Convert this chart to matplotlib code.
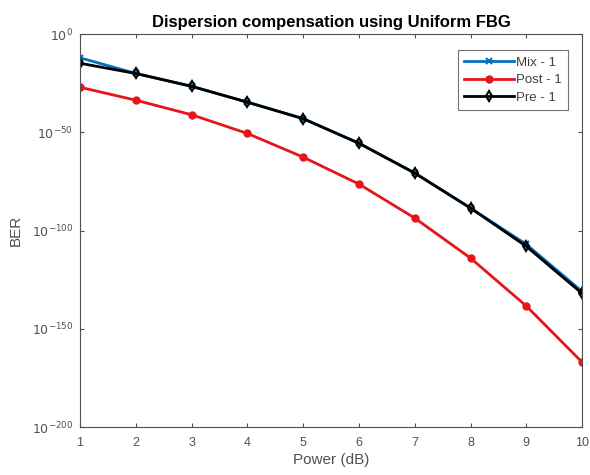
import matplotlib
matplotlib.use("Agg")
import matplotlib.pyplot as plt
from matplotlib.ticker import FixedLocator, NullLocator

plt.rcParams['font.family'] = ['Liberation Sans', 'DejaVu Sans']

power = [1, 2, 3, 4, 5, 6, 7, 8, 9, 10]
ber_mix = [1e-12, 1e-20, 3e-27, 2.5e-35, 1e-43, 3e-56, 2e-71, 3e-89, 1e-107, 1e-131]
ber_post = [1e-27, 2.5e-34, 1e-41, 3e-51, 2.5e-63, 5e-77, 2.5e-94, 1e-114, 4e-139, 1e-167]
ber_pre = [1.6e-15, 1e-20, 3e-27, 2.5e-35, 1e-43, 3e-56, 2e-71, 3e-89, 1e-108, 1e-132]
ytick_vals = [1e0, 1e-50, 1e-100, 1e-150, 1e-200]
ytick_labels = [r'$10^{0}$', r'$10^{-50}$', r'$10^{-100}$', r'$10^{-150}$', r'$10^{-200}$']
xtick_vals = [1, 2, 3, 4, 5, 6, 7, 8, 9, 10]

fig = plt.figure(figsize=(5.9, 4.75), dpi=100)
ax = fig.add_axes([0.1356, 0.101, 0.851, 0.827])

ax.plot(power, ber_mix, color='#0072BD', lw=2, marker='x', ms=5, mew=1.5, label='Mix - 1')
ax.plot(power, ber_post, color='#E8141B', lw=2, marker='o', ms=5, mfc='#E8141B', mec='#E8141B', label='Post - 1')
ax.plot(power, ber_pre, color='black', lw=2, marker='d', ms=5, mfc='none', mec='black', mew=1.5, label='Pre - 1')

ax.set_yscale('log')
ax.set_xlim(1, 10)
ax.set_ylim(1e-200, 1e0)
ax.yaxis.set_major_locator(FixedLocator(ytick_vals))
ax.yaxis.set_minor_locator(NullLocator())
ax.set_yticklabels(ytick_labels)
ax.set_xticks(xtick_vals)
ax.tick_params(direction='in', top=True, right=True, labelsize=9, colors='#505050', length=3)
ax.tick_params(axis='x', pad=7)
ax.tick_params(axis='y', pad=5)
for s in ax.spines.values():
    s.set_color('#505050')
    s.set_linewidth(0.8)

ax.set_xlabel('Power (dB)', fontsize=11, color='#505050', labelpad=3)
ax.set_ylabel('BER', fontsize=11, color='#505050', labelpad=6)
ax.set_title('Dispersion compensation using Uniform FBG', fontsize=12, fontweight='bold', pad=5)

leg = ax.legend(loc='upper right', fontsize=9.5, frameon=True, fancybox=False,
                edgecolor='#505050', handlelength=3.8, borderpad=0.5, labelspacing=0.4,
                handletextpad=0.1, borderaxespad=0.0, bbox_to_anchor=(0.972, 0.96))
leg.get_frame().set_linewidth(0.8)
for t in leg.get_texts():
    t.set_color('#404040')

fig.savefig('out.png', dpi=100)
